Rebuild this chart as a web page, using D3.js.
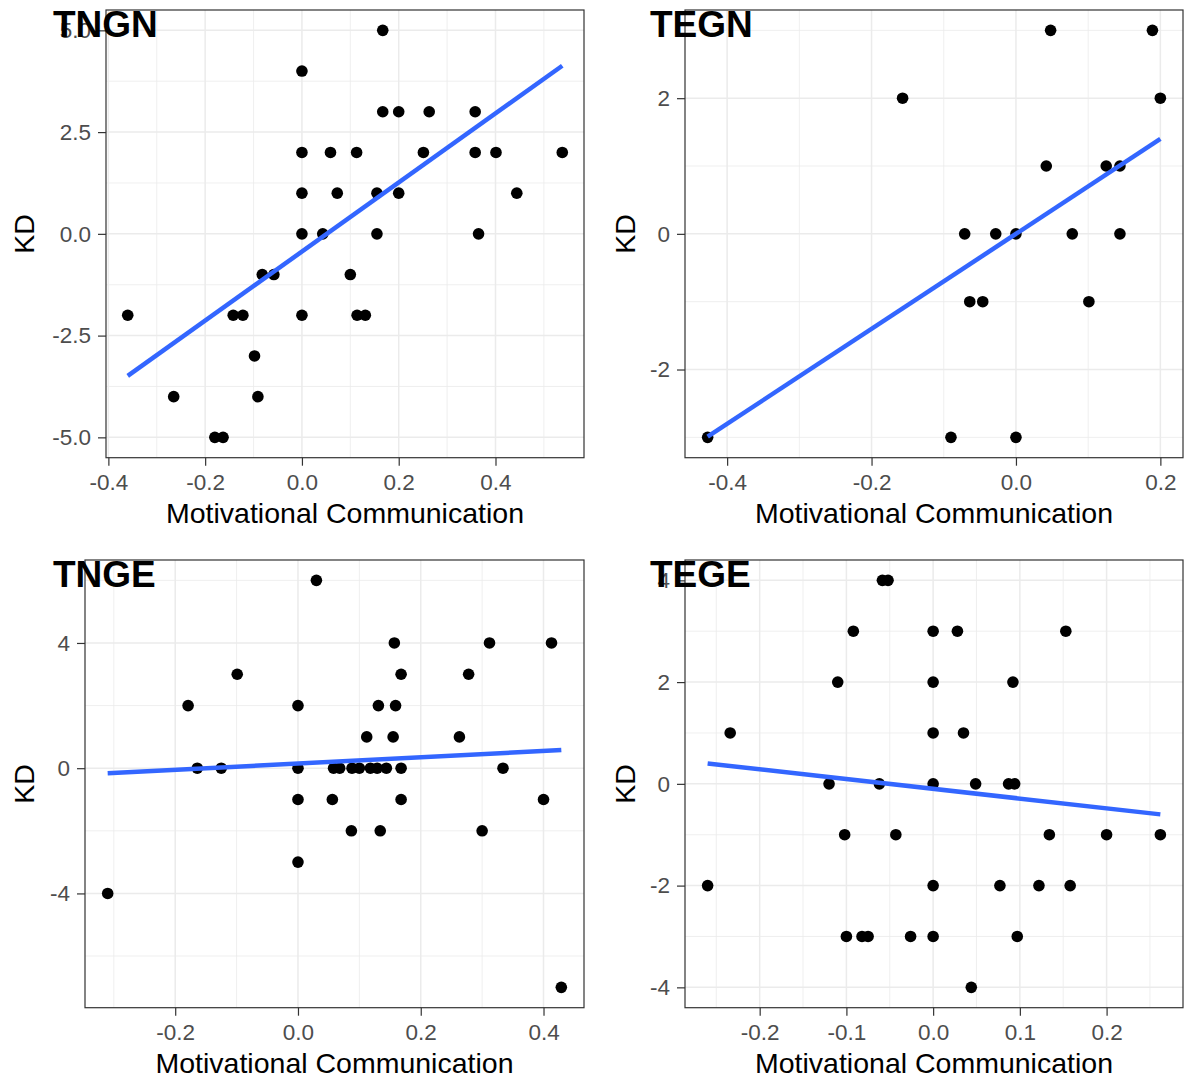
<!DOCTYPE html>
<html>
<head>
<meta charset="utf-8">
<script src="https://cdn.jsdelivr.net/npm/d3@7"></script>
<style>
  body { margin: 0; background: #fff; }
  svg { display: block; font-family: "Liberation Sans", Arial, sans-serif; }
</style>
</head>
<body>
<svg id="chart" width="1184" height="1082"></svg>
<script>
// data (x = Motivational Communication, y = KD)
const tngnX = [0.167, 0, 0.167, 0.2, 0.263, 0.358, 0, 0.059, 0.113, 0.251, 0.358, 0.401, 0.538,
  0, 0.073, 0.155, 0.2, 0.444, 0, 0.043, 0.155, 0.365, -0.36, -0.082, -0.058, -0.142, -0.122,
  0, -0.098, -0.265, -0.091, -0.18, -0.163, 0.1, 0.114, 0.131];
const tngnY = [5, 4, 3, 3, 3, 3, 2, 2, 2, 2, 2, 2, 2,
  1, 1, 1, 1, 1, 0, 0, 0, 0, -2, -1, -1, -2, -2,
  -2, -3, -4, -4, -5, -5, -1, -2, -2];

const tegnX = [-0.427, -0.157, 0.048, 0.189, 0.2, 0.042, 0.125, 0.144, -0.071, -0.028, 0, 0.078,
  0.144, -0.064, -0.046, 0.101, -0.09, 0];
const tegnY = [-3, 2, 3, 3, 2, 1, 1, 1, 0, 0, 0, 0,
  0, -1, -1, -1, -3, -3];

const tngeX = [-0.31, -0.179, -0.099, -0.164, -0.125, 0.03, 0.157, 0.312, 0.413, 0.168, 0.278,
  0, 0.131, 0.159, 0.112, 0.155, 0.263,
  0, 0.058, 0.068, 0.088, 0.1, 0.118, 0.129, 0.144, 0.168, 0.334,
  0, 0.056, 0.168, 0.4, 0.087, 0.134, 0.3, 0, 0.429];
const tngeY = [-4, 2, 3, 0, 0, 6, 4, 4, 4, 3, 3,
  2, 2, 2, 1, 1, 1,
  0, 0, 0, 0, 0, 0, 0, 0, 0, 0,
  -1, -1, -1, -1, -2, -2, -2, -3, -7];

const tegeX = [-0.26, -0.234, -0.0585, -0.052, -0.092, -0.11, -0.12, -0.062, -0.102, -0.043,
  -0.1, -0.082, -0.075, 0, 0.028, 0.153, 0, 0.092, 0, 0.035, 0, 0.049, 0.087, 0.094,
  0.134, 0.2, 0.262, 0, 0.077, 0.122, 0.158, -0.026, 0, 0.097, 0.044];
const tegeY = [-2, 1, 4, 4, 3, 2, 0, 0, -1, -1,
  -3, -3, -3, 3, 3, 3, 2, 2, 1, 1, 0, 0, 0, 0,
  -1, -1, -1, -2, -2, -2, -2, -3, -3, -3, -4];

// fitted lm line, KD at the smallest and largest x
const tngnFit = [-3.49, 4.13];
const tegnFit = [-2.99, 1.40];
const tngeFit = [-0.16, 0.58];
const tegeFit = [0.40, -0.60];

// tick values
const tngnXTicks = [-0.4, -0.2, 0, 0.2, 0.4];
const tngnYTicks = [-5, -2.5, 0, 2.5, 5];
const tegnXTicks = [-0.4, -0.2, 0, 0.2];
const tegnYTicks = [-2, 0, 2];
const tngeXTicks = [-0.2, 0, 0.2, 0.4];
const tngeYTicks = [-4, 0, 4];
const tegeXTicks = [-0.2, -0.1, 0, 0.1, 0.2];
const tegeYTicks = [-4, -2, 0, 2, 4];

const panels = [
  { title: 'TNGN', xs: tngnX, ys: tngnY, fit: tngnFit, xt: tngnXTicks, yt: tngnYTicks, yfmt: '.1f',
    left: 106, top: 10, right: 584, bottom: 457.7, titleX: 53, ylabX: 34 },
  { title: 'TEGN', xs: tegnX, ys: tegnY, fit: tegnFit, xt: tegnXTicks, yt: tegnYTicks, yfmt: 'd',
    left: 685, top: 10, right: 1183, bottom: 457.7, titleX: 650, ylabX: 635 },
  { title: 'TNGE', xs: tngeX, ys: tngeY, fit: tngeFit, xt: tngeXTicks, yt: tngeYTicks, yfmt: 'd',
    left: 85, top: 560, right: 584, bottom: 1007.7, titleX: 53, ylabX: 34 },
  { title: 'TEGE', xs: tegeX, ys: tegeY, fit: tegeFit, xt: tegeXTicks, yt: tegeYTicks, yfmt: 'd',
    left: 685, top: 560, right: 1183, bottom: 1007.7, titleX: 650, ylabX: 635 }
];

const svg = d3.select('#chart');

// ggplot style 5% expansion
function expanded(vals) {
  const [lo, hi] = d3.extent(vals);
  const pad = (hi - lo) * 0.05;
  return [lo - pad, hi + pad];
}

// midpoints between majors, kept inside the domain
function minorTicks(ticks, domain) {
  const step = ticks[1] - ticks[0];
  const out = [];
  for (let v = ticks[0] - step / 2; v <= domain[1]; v += step) {
    if (v >= domain[0]) out.push(v);
  }
  return out;
}

// plain hyphen for negatives, like R does
const fmt = spec => {
  const f = d3.format(spec);
  return v => f(v).replace('\u2212', '-');
};

panels.forEach(p => {
  const xDom = expanded(p.xs), yDom = expanded(p.ys);
  const x = d3.scaleLinear().domain(xDom).range([p.left, p.right]);
  const y = d3.scaleLinear().domain(yDom).range([p.bottom, p.top]);
  const g = svg.append('g');

  // grid
  const grid = g.append('g');
  minorTicks(p.xt, xDom).forEach(v => {
    grid.append('line').attr('x1', x(v)).attr('x2', x(v)).attr('y1', p.top).attr('y2', p.bottom)
      .attr('stroke', '#EBEBEB').attr('stroke-width', 0.8);
  });
  minorTicks(p.yt, yDom).forEach(v => {
    grid.append('line').attr('y1', y(v)).attr('y2', y(v)).attr('x1', p.left).attr('x2', p.right)
      .attr('stroke', '#EBEBEB').attr('stroke-width', 0.8);
  });
  p.xt.forEach(v => {
    grid.append('line').attr('x1', x(v)).attr('x2', x(v)).attr('y1', p.top).attr('y2', p.bottom)
      .attr('stroke', '#EBEBEB').attr('stroke-width', 1.5);
  });
  p.yt.forEach(v => {
    grid.append('line').attr('y1', y(v)).attr('y2', y(v)).attr('x1', p.left).attr('x2', p.right)
      .attr('stroke', '#EBEBEB').attr('stroke-width', 1.5);
  });

  // points
  g.append('g').selectAll('circle')
    .data(p.xs.map((v, i) => [v, p.ys[i]]))
    .enter().append('circle')
    .attr('cx', d => x(d[0]))
    .attr('cy', d => y(d[1]))
    .attr('r', 5.8)
    .attr('fill', '#000');

  // lm line
  const [x0, x1] = d3.extent(p.xs);
  g.append('line')
    .attr('x1', x(x0)).attr('y1', y(p.fit[0]))
    .attr('x2', x(x1)).attr('y2', y(p.fit[1]))
    .attr('stroke', '#3366FF').attr('stroke-width', 4.5);

  // border
  g.append('rect')
    .attr('x', p.left).attr('y', p.top)
    .attr('width', p.right - p.left).attr('height', p.bottom - p.top)
    .attr('fill', 'none').attr('stroke', '#333').attr('stroke-width', 1.2);

  // axes
  const xAxis = d3.axisBottom(x).tickValues(p.xt).tickFormat(fmt('.1f'))
    .tickSize(8).tickPadding(8);
  const yAxis = d3.axisLeft(y).tickValues(p.yt).tickFormat(fmt(p.yfmt))
    .tickSize(8).tickPadding(7);
  [g.append('g').attr('transform', `translate(0,${p.bottom})`).call(xAxis),
   g.append('g').attr('transform', `translate(${p.left},0)`).call(yAxis)].forEach(ax => {
    ax.select('.domain').remove();
    ax.selectAll('line').attr('stroke', '#333').attr('stroke-width', 1.2);
    ax.selectAll('text').attr('fill', '#4D4D4D').style('font-size', '22.5px')
      .style('font-family', '"Liberation Sans", Arial, sans-serif');
  });

  // axis titles
  g.append('text')
    .attr('x', (p.left + p.right) / 2).attr('y', p.bottom + 65)
    .attr('text-anchor', 'middle').style('font-size', '28.5px').attr('fill', '#000')
    .text('Motivational Communication');
  g.append('text')
    .attr('transform', `translate(${p.ylabX},${(p.top + p.bottom) / 2}) rotate(-90)`)
    .attr('text-anchor', 'middle').style('font-size', '28.5px').attr('fill', '#000')
    .text('KD');

  // panel title, drawn over the top tick label as in the original
  g.append('text')
    .attr('x', p.titleX).attr('y', p.top + 27)
    .style('font-size', '37px').style('font-weight', 'bold').attr('fill', '#000')
    .text(p.title);
});
</script>
</body>
</html>
